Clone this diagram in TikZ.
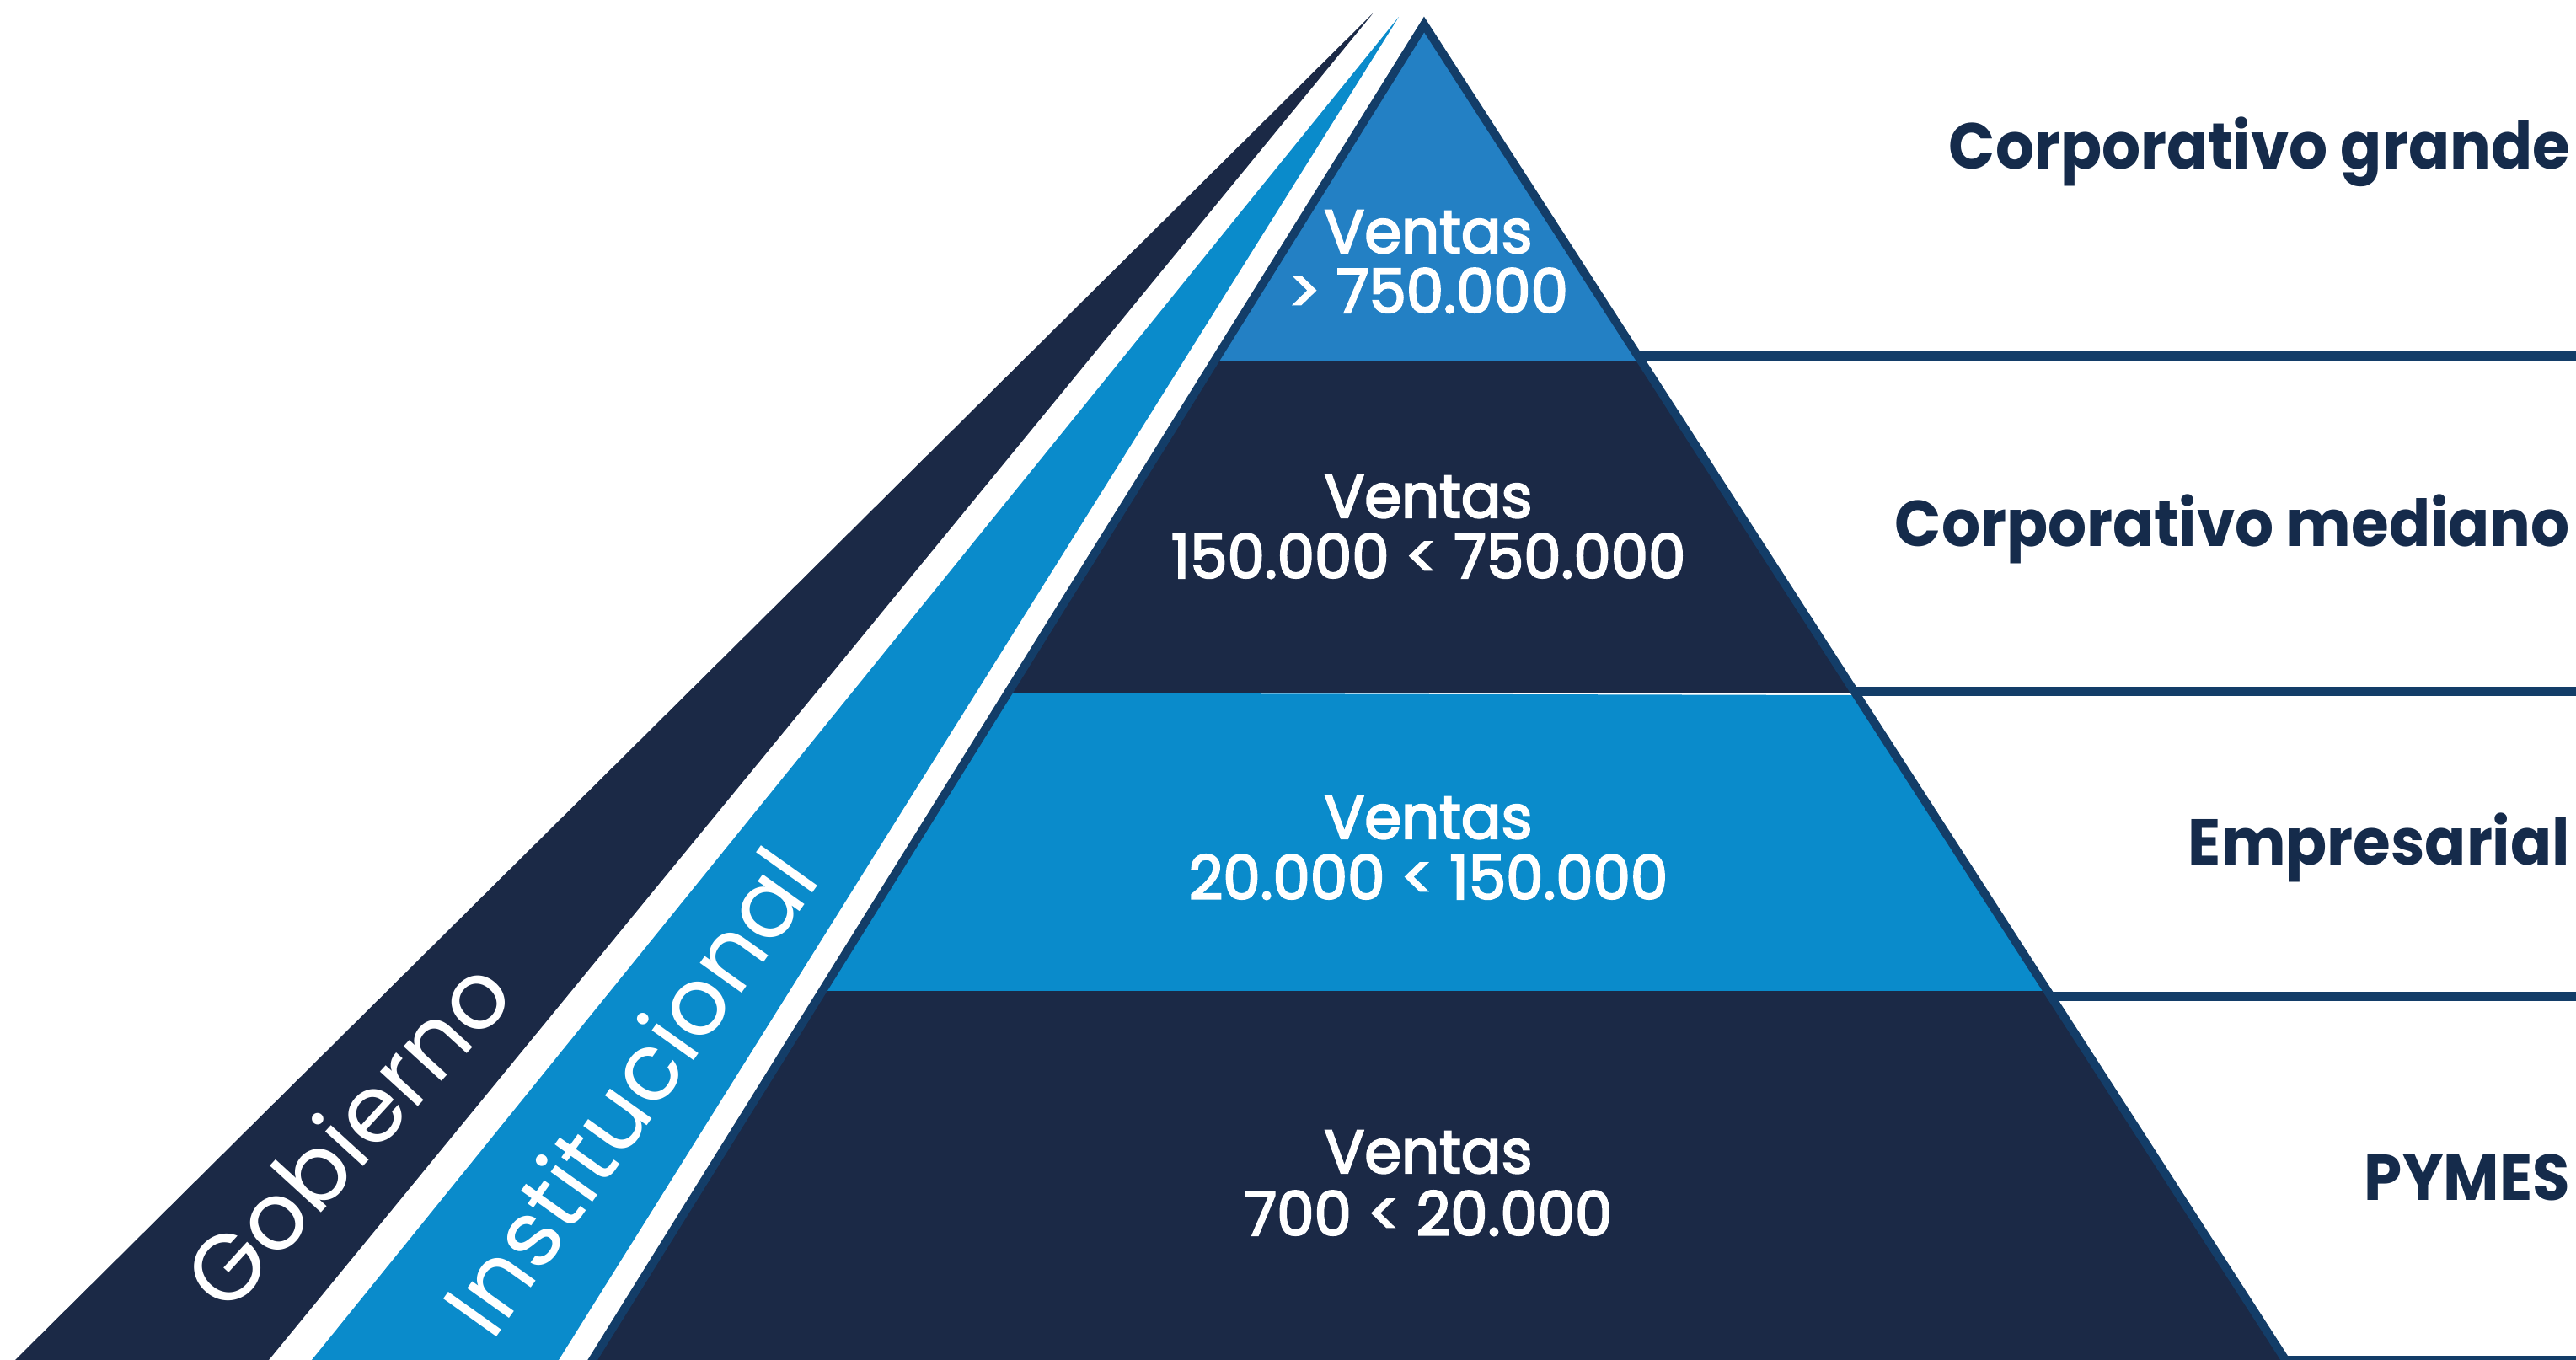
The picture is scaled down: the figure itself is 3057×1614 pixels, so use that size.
\documentclass[tikz,border=0pt]{standalone}
\usepackage{fontspec}
\setmainfont{Poppins}
\newfontfamily\popmed[FakeBold=3,FakeStretch=0.98]{Poppins}
\newfontfamily\popbold[FakeStretch=0.94]{Poppins}
\definecolor{navy}{HTML}{1B2946}
\definecolor{midblue}{HTML}{2380C4}
\definecolor{lblue}{HTML}{0A8BCB}
\definecolor{edgeblue}{HTML}{133D68}
\definecolor{textnavy}{HTML}{152B4B}
\begin{document}
\begin{tikzpicture}[x=1pt,y=-1pt,
  ptext/.style={text=white,inner sep=0pt,font=\popmed\fontsize{72}{72}\selectfont},
  rlabel/.style={text=textnavy,inner sep=0pt,font=\popbold\fontsize{77}{77}\selectfont\bfseries},
  blabel/.style={text=white,inner sep=0pt,font=\fontsize{111}{111}\selectfont},
  tierline/.style={draw=edgeblue,line width=11pt},
  outlinestyle/.style={draw=edgeblue,line width=10pt,line join=miter}]
\useasboundingbox (0,0) rectangle (3057,1614);
\clip (0,0) rectangle (3057,1614);
% side bands
\fill[navy] (1630,15) -- (18,1614) -- (319,1614) -- cycle;
\fill[lblue] (1660,20) -- (370,1614) -- (663,1614) -- cycle;
% pyramid
\coordinate (apex) at (1690,29);
\coordinate (bl) at (687,1640);
\coordinate (br) at (2729,1640);
\begin{scope}
  \clip (apex) -- (bl) -- (br) -- cycle;
  \fill[midblue] (600,0) rectangle (2800,428);
  \fill[navy] (600,428) rectangle (2800,822);
  \fill[lblue] (600,821) -- (2800,826.5) -- (2800,1176) -- (600,1176) -- cycle;
  \fill[navy] (600,1176) rectangle (2800,1650);
\end{scope}
\draw[outlinestyle] (bl) -- (apex) -- (br);
% tier lines
\coordinate (e1) at (1944,422.5); \coordinate (r1) at (3057,422.5);
\coordinate (e2) at (2200,820);   \coordinate (r2) at (3057,820);
\coordinate (e3) at (2433,1182);  \coordinate (r3) at (3057,1182);
\coordinate (e4) at (2712,1614);  \coordinate (r4) at (3057,1614);
\draw[tierline] (e1) -- (r1);
\draw[tierline] (e2) -- (r2);
\draw[tierline] (e3) -- (r3);
\draw[tierline] (e4) -- (r4);
% pyramid texts
\node[ptext,anchor=base] (v1) at (1695,300) {Ventas};
\node[ptext,anchor=base] (n1) at (1695,371) {> 750.000};
\node[ptext,anchor=base] (v2) at (1695,614) {Ventas};
\node[ptext,anchor=base] (n2) at (1695,686) {150.000 < 750.000};
\node[ptext,anchor=base] (v3) at (1695,995) {Ventas};
\node[ptext,anchor=base] (n3) at (1695,1067) {20.000 < 150.000};
\node[ptext,anchor=base] (v4) at (1695,1392) {Ventas};
\node[ptext,anchor=base] (n4) at (1695,1466) {700 < 20.000};
% right labels
\node[rlabel,anchor=base east] (c1) at (3050,200) {Corporativo grande};
\node[rlabel,anchor=base east] (c2) at (3050,648) {Corporativo mediano};
\node[rlabel,anchor=base east] (c3) at (3050,1026) {Empresarial};
\node[rlabel,anchor=base east] (c4) at (3050,1424) {PYMES};
% band labels
\node[blabel,rotate=47.6] (gob) at (411,1345) {Gobierno};
\node[blabel,rotate=54.5] (inst) at (746,1295) {Institucional};
\end{tikzpicture}
\end{document}
